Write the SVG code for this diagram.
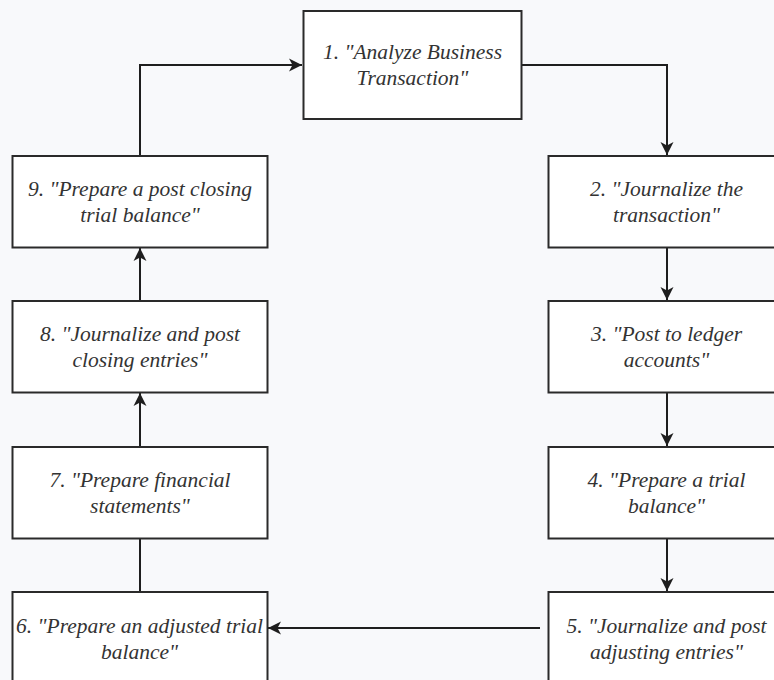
<svg xmlns="http://www.w3.org/2000/svg" width="774" height="680" viewBox="0 0 774 680">
<style>
.box{fill:#ffffff;stroke:#2a2a2a;stroke-width:2}
.lbl{font-family:"Liberation Serif","Times New Roman",serif;font-style:italic;font-size:21.5px;fill:#333333;text-anchor:middle}
.edge{fill:none;stroke:#1e1e1e;stroke-width:2}
</style>
<defs>
<marker id="arr" markerUnits="userSpaceOnUse" markerWidth="15" markerHeight="14" refX="13" refY="7" orient="auto">
<path d="M0,0.5 L13,7 L0,13.5 L3.5,7 Z" fill="#1e1e1e"/>
</marker>
</defs>
<rect x="0" y="0" width="774" height="680" fill="#f8f9fb"/>

<g id="connectors">
<polyline class="edge" points="140,155 140,65 302,65" marker-end="url(#arr)"/>
<polyline class="edge" points="522,65 667,65 667,155" marker-end="url(#arr)"/>
<line class="edge" x1="667" y1="248" x2="667" y2="300" marker-end="url(#arr)"/>
<line class="edge" x1="667" y1="393" x2="667" y2="446" marker-end="url(#arr)"/>
<line class="edge" x1="667" y1="539" x2="667" y2="591" marker-end="url(#arr)"/>
<line class="edge" x1="540" y1="628" x2="268" y2="628" marker-end="url(#arr)"/>
<line class="edge" x1="140" y1="592" x2="140" y2="539"/>
<line class="edge" x1="140" y1="447" x2="140" y2="393" marker-end="url(#arr)"/>
<line class="edge" x1="140" y1="301" x2="140" y2="248" marker-end="url(#arr)"/>
</g>

<g id="n1">
<rect class="box" x="303.5" y="11" width="218" height="108"/>
<text class="lbl" x="412.5" y="59">1. "Analyze Business</text>
<text class="lbl" x="412.5" y="85">Transaction"</text>
</g>
<g id="n2">
<rect class="box" x="548.5" y="156" width="256" height="91.5"/>
<text class="lbl" x="666.5" y="195.5">2. "Journalize the</text>
<text class="lbl" x="666.5" y="221.5">transaction"</text>
</g>
<g id="n3">
<rect class="box" x="548.5" y="301" width="256" height="91.5"/>
<text class="lbl" x="666.5" y="340.5">3. "Post to ledger</text>
<text class="lbl" x="666.5" y="366.5">accounts"</text>
</g>
<g id="n4">
<rect class="box" x="548.5" y="447" width="256" height="91.5"/>
<text class="lbl" x="666.5" y="486.5">4. "Prepare a trial</text>
<text class="lbl" x="666.5" y="512.5">balance"</text>
</g>
<g id="n5">
<rect class="box" x="548.5" y="592" width="256" height="100"/>
<text class="lbl" x="666.5" y="633">5. "Journalize and post</text>
<text class="lbl" x="666.5" y="659">adjusting entries"</text>
</g>
<g id="n6">
<rect class="box" x="12.5" y="592" width="255" height="100"/>
<text class="lbl" x="139.5" y="633">6. "Prepare an adjusted trial</text>
<text class="lbl" x="139.5" y="659">balance"</text>
</g>
<g id="n7">
<rect class="box" x="12.5" y="447" width="255" height="91.5"/>
<text class="lbl" x="140" y="486.5">7. "Prepare financial</text>
<text class="lbl" x="140" y="512.5">statements"</text>
</g>
<g id="n8">
<rect class="box" x="12.5" y="301" width="255" height="91.5"/>
<text class="lbl" x="140" y="340.5">8. "Journalize and post</text>
<text class="lbl" x="140" y="366.5">closing entries"</text>
</g>
<g id="n9">
<rect class="box" x="12.5" y="156" width="255" height="91.5"/>
<text class="lbl" x="140" y="195.5">9. "Prepare a post closing</text>
<text class="lbl" x="140" y="221.5">trial balance"</text>
</g>
</svg>
